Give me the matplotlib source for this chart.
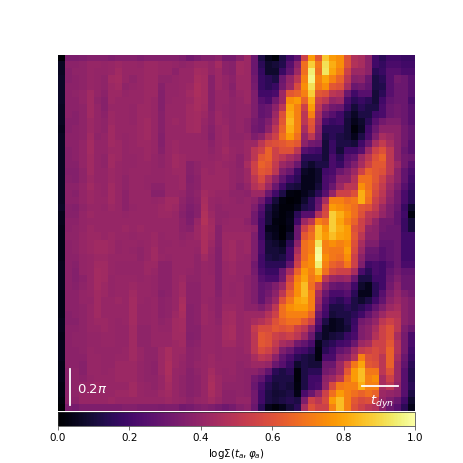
import numpy as np
import matplotlib
matplotlib.use("Agg")
import matplotlib.pyplot as plt

# surface density map values in hundredths, columns 0-25
left_rows = [
[1,34,34,35,36,36,36,35,36,36,36,35,36,36,36,36,36,35,32,34,36,36,38,33,33,37],
[6,38,38,39,41,41,40,41,42,41,41,40,42,42,41,41,40,39,40,42,42,40,44,38,37,43],
[6,37,39,39,41,40,40,41,43,41,41,41,42,42,41,41,38,41,41,44,43,40,42,38,37,43],
[7,37,38,39,41,40,39,43,44,41,39,41,42,42,39,39,40,41,41,45,44,37,42,40,38,42],
[7,38,38,39,41,40,39,42,43,39,40,41,42,42,37,40,40,41,42,46,44,37,42,40,37,42],
[7,38,39,40,43,40,38,42,42,40,41,41,42,42,36,40,40,41,43,46,44,37,41,41,38,41],
[7,38,38,40,43,39,37,42,41,41,41,41,42,41,36,40,41,41,42,45,44,37,41,41,39,40],
[6,38,38,39,43,40,37,41,41,41,40,42,42,41,36,41,41,41,43,45,43,37,41,40,39,40],
[6,38,37,39,43,40,38,42,41,41,40,42,42,41,37,41,41,41,43,44,42,38,42,40,39,40],
[6,37,37,39,42,40,39,42,41,41,40,42,43,41,37,41,42,41,43,44,41,38,42,41,39,40],
[5,37,38,39,42,40,39,43,41,41,41,42,43,41,37,41,41,41,43,44,40,37,41,42,39,40],
[6,38,38,39,43,39,40,43,41,40,41,42,43,41,36,41,41,41,41,41,40,36,41,42,39,39],
[6,38,38,40,44,40,40,43,42,40,41,42,42,41,36,41,42,41,41,41,41,38,41,42,40,40],
[6,37,38,40,44,40,40,42,42,40,41,41,42,41,37,41,42,41,41,41,41,39,41,43,41,40],
[6,37,38,40,43,40,39,43,42,40,40,41,42,40,39,41,43,42,41,41,41,40,41,42,41,38],
[6,37,37,40,43,40,39,43,41,40,40,41,41,40,39,41,43,42,37,39,41,41,42,41,40,38],
[6,36,36,39,43,40,40,42,41,40,41,41,41,40,40,41,42,42,37,39,42,41,42,42,40,39],
[6,37,36,39,42,40,40,42,41,39,41,41,40,40,40,41,41,42,36,38,42,42,42,42,40,39],
[6,38,38,40,43,41,40,43,41,39,41,41,40,38,38,41,41,42,37,38,42,42,42,42,40,37],
[6,38,37,40,42,41,40,43,41,38,41,41,41,37,37,41,41,40,37,39,44,42,41,41,39,39],
[6,38,38,40,42,41,41,43,41,38,41,41,41,40,41,43,43,39,36,38,45,41,40,41,40,39],
[7,37,36,39,41,41,40,42,41,38,40,41,41,41,42,43,42,38,35,37,46,41,39,40,40,40],
[5,37,37,40,42,41,41,41,41,40,41,41,41,41,42,42,41,37,34,37,47,42,39,39,40,40],
[5,38,38,40,41,41,41,41,41,41,41,41,41,41,41,41,41,38,35,41,48,43,39,40,41,41],
[4,38,39,40,42,41,41,41,41,42,41,42,41,41,41,41,41,38,37,42,46,44,37,41,41,41],
[4,39,39,41,42,42,41,42,41,41,40,41,41,42,40,41,41,39,40,42,46,43,37,42,42,42],
[4,38,39,41,42,43,43,42,40,41,41,40,41,42,40,40,41,40,41,41,46,42,37,42,43,41],
[4,38,39,41,42,43,43,42,40,41,40,39,41,43,40,41,41,41,41,40,46,41,36,42,43,41],
[4,38,38,40,41,42,42,41,41,41,41,39,41,43,41,40,41,41,41,39,43,40,36,42,43,41],
[5,38,37,40,41,43,43,41,40,40,40,40,42,42,38,38,41,41,41,39,41,40,36,41,42,40],
[5,38,36,40,41,44,43,41,40,40,40,40,42,41,38,38,41,41,40,39,41,40,36,41,42,40],
[5,38,36,38,41,44,43,40,41,41,41,40,41,40,38,38,41,42,39,39,41,41,36,41,41,40],
[5,38,37,39,41,44,42,40,41,41,42,41,41,40,38,38,41,43,38,38,41,41,36,41,40,41],
[4,38,38,40,41,43,42,40,41,41,43,41,41,40,37,38,41,43,38,38,41,41,37,41,40,41],
[4,38,38,40,40,43,41,41,42,41,44,41,40,41,38,39,41,45,38,38,41,40,38,41,41,41],
[4,38,38,39,41,43,41,41,41,41,44,40,40,41,38,39,41,46,37,38,42,40,38,42,42,41],
[4,37,38,39,41,43,41,41,41,41,44,40,40,41,38,39,42,45,37,38,42,41,38,43,44,41],
[5,37,37,39,41,42,42,41,40,41,44,40,40,41,39,40,43,44,37,38,42,41,39,43,44,41],
[5,38,38,39,41,41,42,41,40,40,43,39,39,41,40,40,43,44,37,37,41,41,40,44,45,41],
[4,38,39,39,40,40,41,41,40,40,43,39,39,41,41,41,43,43,36,37,41,41,40,44,45,41],
[5,38,39,39,40,40,41,41,40,40,43,39,39,41,41,41,42,43,37,38,41,41,40,43,43,41],
[5,38,38,39,41,40,40,40,40,41,43,41,39,39,42,45,42,42,38,39,41,41,40,41,41,40],
[5,38,38,38,41,41,40,40,41,41,43,41,39,39,42,45,42,41,38,39,41,42,40,41,41,40],
[4,38,38,37,41,41,40,40,42,42,42,40,39,38,42,46,42,40,38,40,41,42,41,41,41,39],
[4,37,39,37,41,41,40,41,42,42,42,40,39,38,42,46,41,40,37,39,41,44,41,40,41,39],
[4,37,39,38,40,41,41,41,42,42,42,40,39,39,41,45,41,39,37,38,41,45,42,40,40,39],
[3,37,39,40,41,42,41,41,41,41,43,41,40,39,41,44,41,39,37,38,41,46,42,39,39,39],
[3,38,39,41,41,41,41,41,42,42,43,41,40,40,42,43,41,39,37,38,41,45,42,38,38,39],
[2,38,38,41,41,41,41,42,41,41,41,41,41,41,41,42,41,40,38,40,41,43,41,38,38,40],
[0,34,33,35,35,35,35,35,35,36,36,35,35,35,34,35,35,32,33,35,36,35,33,31,33,36],
]

# surface density map values in hundredths, columns 26-49
right_rows = [
[42,30,12,5,2,12,20,27,55,78,62,87,78,75,60,47,45,38,20,15,20,20,18,18],
[42,30,15,8,10,13,25,38,68,88,70,92,82,75,60,48,45,38,20,17,22,22,20,20],
[42,30,17,8,8,18,28,42,68,95,68,93,80,72,55,42,42,38,15,18,25,25,22,22],
[42,32,18,15,12,30,40,50,72,97,72,80,72,65,50,37,38,30,12,15,25,32,30,25],
[42,33,18,15,18,32,42,58,75,92,70,75,62,60,45,30,32,28,12,13,25,30,30,25],
[42,35,20,20,22,42,62,65,72,88,62,60,50,48,30,20,25,25,10,15,25,30,30,25],
[42,35,25,22,32,42,75,78,65,82,55,50,40,42,22,15,18,15,10,20,28,30,30,22],
[40,35,28,30,38,50,80,72,55,78,50,38,32,30,18,10,15,12,12,22,30,32,30,25],
[40,35,28,30,42,60,82,72,50,72,45,30,25,20,12,7,12,12,20,22,30,32,30,25],
[38,33,30,35,45,62,84,72,50,62,42,22,18,20,10,5,8,15,25,32,35,35,30,25],
[38,32,30,38,50,65,82,72,45,60,38,15,15,15,10,2,7,20,30,38,38,38,32,28],
[40,35,38,48,55,68,78,68,40,50,35,12,15,12,10,5,12,22,35,45,42,38,32,28],
[42,42,50,58,60,62,65,62,38,32,30,10,18,12,12,10,20,30,45,52,45,38,32,25],
[42,50,55,65,55,60,60,50,25,22,20,10,18,10,20,20,25,42,55,60,50,38,30,25],
[42,50,62,65,55,50,45,40,15,15,15,10,22,15,25,28,42,50,60,65,50,38,32,30],
[45,55,65,62,52,42,38,30,12,8,12,12,22,18,28,35,45,55,62,62,50,42,32,25],
[42,55,62,60,50,35,30,18,7,5,8,20,22,30,35,42,55,65,62,60,50,38,28,22],
[42,50,58,48,38,28,20,15,5,5,8,22,25,38,38,48,68,68,62,55,45,38,28,20],
[40,48,52,42,30,20,12,10,5,5,10,22,30,42,50,50,75,68,60,52,42,35,25,18],
[38,42,42,30,20,12,3,2,5,8,15,25,40,55,55,60,82,70,58,50,40,32,22,15],
[40,38,32,20,10,3,1,2,8,15,28,45,72,72,68,70,82,68,55,48,38,32,22,15],
[40,35,25,12,6,2,2,5,12,15,30,55,78,75,72,68,62,60,52,42,35,30,18,8],
[40,32,22,10,5,2,4,15,25,25,48,58,88,82,75,68,60,50,48,40,35,28,20,3],
[38,32,20,10,3,2,5,20,42,50,72,68,88,80,72,65,55,48,40,32,32,28,18,10],
[40,38,20,5,4,1,4,30,55,65,85,75,88,82,78,60,55,40,38,32,30,30,18,10],
[42,35,20,8,5,1,8,30,62,68,85,78,85,80,78,62,50,38,38,30,30,30,20,20],
[42,35,22,10,8,5,15,38,68,72,93,72,75,72,75,60,45,35,35,28,28,30,20,20],
[42,35,22,10,10,8,20,45,68,72,98,72,70,70,78,58,42,30,30,25,28,30,20,20],
[40,35,20,12,10,12,20,50,68,75,99,75,70,68,75,55,38,28,28,25,28,30,20,20],
[40,32,20,15,15,15,28,55,72,75,95,72,65,62,70,55,35,20,22,20,25,30,22,22],
[40,33,22,18,18,30,45,65,78,72,85,68,58,55,55,45,22,15,22,20,28,32,28,28],
[38,35,25,22,22,32,55,72,80,70,75,50,42,40,42,30,12,12,20,20,30,35,30,30],
[38,35,28,30,35,42,60,75,85,68,55,38,30,28,30,20,8,5,15,20,32,38,30,30],
[38,35,28,32,38,50,65,75,85,72,45,30,22,22,25,15,5,5,15,25,35,40,35,32],
[38,35,28,35,42,60,70,80,82,72,42,25,18,15,20,12,8,12,20,28,38,42,38,35],
[38,38,35,40,50,68,75,78,78,72,38,22,12,12,15,12,15,20,28,35,42,45,38,35],
[42,42,42,48,55,68,72,72,72,65,30,20,10,12,12,15,20,28,35,42,48,48,38,35],
[42,45,48,52,60,65,68,68,62,55,25,12,5,7,12,18,32,35,40,50,55,50,38,35],
[42,52,58,58,62,60,62,55,50,38,20,7,5,7,10,20,35,38,45,55,60,50,35,30],
[42,50,62,60,55,52,55,50,42,30,12,7,10,12,18,22,35,38,48,55,60,45,33,22],
[42,50,62,60,52,45,42,32,28,22,5,12,15,20,22,30,42,45,55,55,62,48,33,22],
[42,50,58,55,48,35,30,22,20,15,3,15,20,28,32,42,52,55,58,55,65,48,33,20],
[40,45,50,48,38,28,22,15,12,10,3,22,22,35,38,48,72,60,58,50,65,45,30,18],
[40,42,42,40,30,25,18,8,12,10,10,30,30,42,55,70,80,62,60,50,65,42,28,15],
[38,38,35,28,15,12,15,2,12,15,15,32,35,42,62,78,85,70,70,50,60,42,25,13],
[38,32,28,18,12,12,12,2,12,20,20,38,42,50,68,78,85,72,75,45,55,42,25,13],
[38,30,22,14,10,12,10,3,12,20,22,40,58,70,72,72,82,72,72,45,50,40,25,15],
[38,32,20,12,9,10,12,4,22,30,40,55,68,78,72,68,65,68,65,42,40,38,25,12],
[40,32,20,12,10,12,14,12,35,55,50,58,78,85,72,62,58,60,55,40,35,30,20,8],
[38,30,15,5,2,5,10,15,45,60,55,55,72,85,72,60,55,50,48,38,30,25,15,5],
]

colorbar_ticks = [0.0, 0.2, 0.4, 0.6, 0.8, 1.0]

W, H = 463.0, 463.0
values = np.hstack([np.array(left_rows), np.array(right_rows)]) / 100.0

fig = plt.figure(figsize=(W / 100, H / 100), dpi=100)
ax = fig.add_axes([58 / W, 1 - 411.5 / H, 357 / W, 356.5 / H])
im = ax.imshow(values, cmap="inferno", vmin=0, vmax=1, aspect="auto",
               interpolation="nearest", origin="upper")
ax.axis("off")

# scale bars and their labels
ax.plot([0.034, 0.034], [0.017, 0.12], color="white", lw=1.3, transform=ax.transAxes)
ax.plot([0.851, 0.953], [0.072, 0.072], color="white", lw=1.3, transform=ax.transAxes)
ax.text(0.052, 0.062, r"$0.2\pi$", color="white", fontsize=9.5,
        transform=ax.transAxes, va="center", ha="left")
ax.text(0.908, 0.028, r"$t_{dyn}$", color="white", fontsize=9.5,
        transform=ax.transAxes, va="center", ha="center")

cax = fig.add_axes([58 / W, 1 - 425.5 / H, 357 / W, 14 / H])
cb = fig.colorbar(im, cax=cax, orientation="horizontal", ticks=colorbar_ticks)
cb.outline.set_linewidth(0.5)
cb.outline.set_edgecolor("#333333")
cb.ax.tick_params(labelsize=7.5, length=2.8, width=0.5, pad=2.5, color="#333333")
cb.ax.xaxis.labelpad = 2.8
cb.set_label(r"$\mathrm{log}\Sigma(t_a,\varphi_a)$", fontsize=7.4)

fig.savefig("out.png", dpi=100)
